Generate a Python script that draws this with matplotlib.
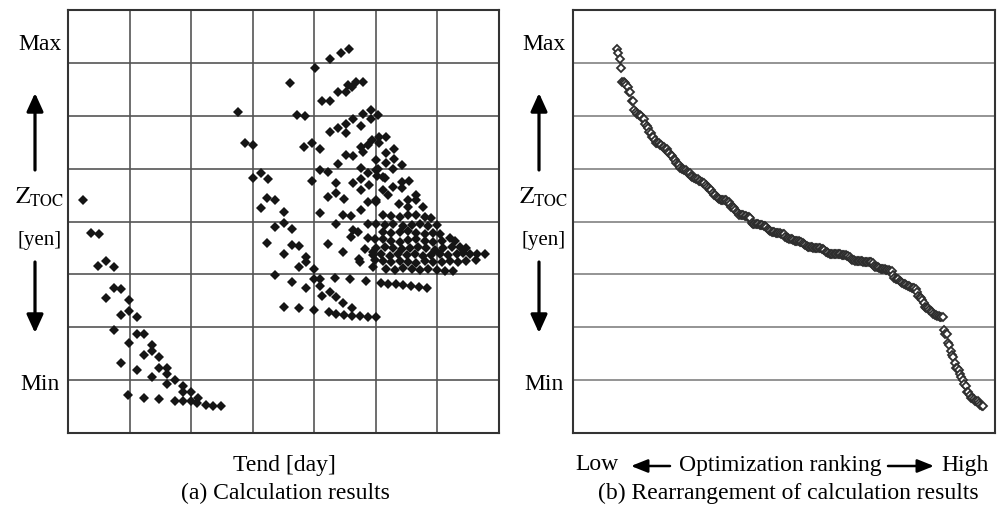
import numpy as np
import matplotlib
matplotlib.use("Agg")
import matplotlib.pyplot as plt

plt.rcParams['font.family'] = ['Liberation Serif', 'DejaVu Serif']
plt.rcParams['mathtext.fontset'] = 'stix'

# --- data (Tend in grid units 0..70, Ztoc in grid units 0..80) ---
tend_low = [2.5, 3.7, 5.0, 4.9, 6.2, 7.4, 7.4, 8.6, 6.2, 9.9, 8.6, 9.9, 11.2, 7.4, 11.2,
            12.3, 9.9, 13.6, 13.6, 12.3, 14.8, 8.6, 11.2, 14.8, 16.1, 13.6, 16.1, 17.4,
            16.1, 18.6, 18.6, 19.9, 9.8, 21.1, 12.3, 14.8, 17.4, 18.6, 19.9, 21.0, 22.4,
            23.6, 24.9]
ztoc_low = [44.0, 37.9, 37.7, 31.6, 32.6, 31.4, 27.5, 27.2, 25.6, 25.1, 22.3, 23.0, 22.0,
            19.5, 18.8, 18.8, 17.1, 16.6, 15.6, 14.8, 14.4, 13.2, 11.9, 12.3, 12.3, 10.6,
            11.2, 10.0, 9.2, 8.8, 7.8, 7.7, 7.1, 6.7, 6.6, 6.4, 6.0, 6.0, 6.0, 5.6, 5.3,
            5.2, 5.1]

tend_mid = [27.6, 28.7, 30.1, 30.1, 31.3, 32.5, 32.4, 33.7, 31.3, 35.0, 33.7, 35.0, 36.3,
            32.4, 36.3, 37.5, 35.0, 38.7, 38.7, 37.5, 33.7, 36.3, 35.0, 37.5, 38.7, 36.0,
            37.2, 38.5, 38.4, 39.7, 41.0, 39.7, 40.1, 41.3, 42.6, 42.6, 41.0, 42.3, 42.3,
            41.0, 42.2, 40.0, 39.9, 41.0, 41.0, 41.3, 42.5, 43.6, 44.7, 46.1, 39.9,
            42.4, 43.6, 44.9, 46.2, 47.4, 48.8, 50.0, 43.3, 45.8, 48.4,
            50.8, 52.0, 53.2, 54.4, 55.7, 57.0, 58.3]
ztoc_mid = [60.7, 54.8, 54.4, 48.3, 49.1, 48.1, 44.4, 44.0, 42.5, 41.8, 39.0, 39.8, 38.5,
            36.0, 35.5, 35.4, 33.8, 33.3, 32.4, 31.4, 29.9, 28.6, 23.9, 23.6, 27.4, 66.1,
            60.1, 59.9, 54.1, 54.9, 53.7, 47.7, 69.1, 62.8, 62.8, 57.0, 49.7, 49.4, 44.7,
            41.6, 35.7, 31.1, 29.1, 29.1, 27.8, 25.9, 26.7, 25.8, 24.5, 23.6, 23.3,
            22.9, 22.5, 22.4, 22.2, 22.1, 22.0, 21.9, 29.4, 29.1, 28.7,
            28.4, 28.2, 28.2, 28.0, 27.8, 27.6, 27.4]

tend_top = [42.6, 44.3, 45.6, 43.9, 45.1, 45.4, 46.8, 47.9, 46.1,
            43.9, 45.1, 45.1, 46.3, 47.6, 47.9, 49.2, 49.2, 50.4,
            45.1, 46.3, 47.6, 47.9, 48.8, 49.3, 50.5, 50.5, 51.7,
            52.9, 51.6, 52.9, 51.6, 54.2, 52.8, 43.9, 47.6, 50.4, 50.1, 50.1]
ztoc_top = [70.8, 71.8, 72.6, 64.5, 64.4, 65.8, 66.4, 66.3, 65.4,
            57.6, 58.4, 56.7, 59.3, 58.1, 60.3, 61.1, 59.3, 60.1,
            52.6, 52.4, 54.1, 53.2, 54.4, 55.4, 56.0, 54.8, 55.9,
            53.8, 52.9, 51.9, 51.0, 50.7, 50.0, 50.9, 50.2, 50.0, 51.6, 49.7]

tend_fan = [43.5, 46.3, 47.6, 48.8, 48.9, 50.2, 51.2, 43.5, 44.8, 47.6, 48.8, 50.0, 44.7,
            45.9, 47.6, 43.5, 46.3, 47.1, 48.8, 48.8, 44.7, 45.9, 47.3, 47.4, 48.2, 49.5,
            49.8, 49.5,
            51.5, 51.2, 52.0, 52.8, 54.2, 55.4, 54.2, 53.8, 55.2, 56.6, 56.6, 55.2, 57.7, 50.1]
ztoc_fan = [47.3, 47.3, 48.1, 49.1, 46.9, 48.6, 48.5, 45.4, 44.2, 45.9, 43.7, 43.7, 41.3,
            41.1, 42.2, 39.5, 38.4, 38.1, 39.6, 36.8, 34.2, 37.1, 33.0, 32.3, 34.8, 34.3,
            32.7, 31.4,
            48.3, 45.9, 45.0, 46.6, 47.5, 47.6, 46.3, 43.4, 44.0, 45.0, 44.0, 42.8, 42.8, 44.0]

tend_dense = [51.2, 52.5, 53.9, 55.2, 56.6, 58.0, 59.0,
              50.1, 51.5, 52.8, 54.4, 55.8, 57.1, 58.5, 59.9,
              51.2, 52.5, 53.9, 55.2, 56.6, 58.0, 59.3, 60.4,
              49.8, 51.2, 52.5, 53.9, 55.2, 56.6, 58.0, 59.3, 60.7, 62.0, 62.8,
              50.1, 51.5, 52.8, 54.2, 55.5, 56.9, 58.2, 59.6, 60.9, 62.3, 63.6, 64.7,
              49.6, 50.9, 52.3, 53.6, 55.0, 56.3, 57.7, 59.0, 60.4, 61.7, 63.1, 64.2, 65.3,
              66.4, 67.7,
              51.2, 52.5, 53.9, 55.2, 56.6, 58.0, 59.3, 60.7, 62.0, 63.4, 64.7, 66.3,
              51.7, 53.1, 54.4, 55.8, 57.1, 58.5, 59.9, 61.2, 62.5]
ztoc_dense = [41.2, 41.0, 40.9, 41.2, 41.2, 40.9, 40.6,
              39.5, 39.3, 39.6, 39.2, 39.4, 39.6, 39.1, 39.3,
              38.0, 37.8, 38.1, 38.2, 37.9, 37.7, 37.9, 37.6,
              36.6, 36.7, 36.4, 36.2, 36.5, 36.6, 36.3, 36.2, 36.4, 36.8, 36.3,
              35.0, 35.2, 34.9, 34.8, 35.0, 35.1, 34.9, 34.7, 35.0, 35.2, 35.1, 34.9,
              33.7, 33.8, 33.5, 33.9, 33.6, 33.8, 33.5, 33.7, 33.9, 33.6, 33.8, 34.0, 33.9,
              33.9, 33.8,
              32.5, 32.3, 32.6, 32.4, 32.2, 32.5, 32.3, 32.4, 32.6, 32.4, 32.5, 32.7,
              31.1, 30.9, 31.2, 31.0, 30.8, 31.1, 30.9, 30.7, 30.6]

tend = np.array(tend_low + tend_mid + tend_top + tend_fan + tend_dense)
ztoc = np.array(ztoc_low + ztoc_mid + ztoc_top + ztoc_fan + ztoc_dense)

# (b) same results, rearranged by optimization ranking
ztoc_ranked = np.sort(ztoc)[::-1]
rank = np.arange(len(ztoc_ranked))

W, H = 997, 508
fig = plt.figure(figsize=(W / 100, H / 100), dpi=100)


def ftext(px, py, s, size=17):
    fig.text(px / W, 1 - py / H, s, ha='center', va='center', fontsize=size)


def farrow(x0, y0, x1, y1, lw=2.3, hl=0.55, hw=0.25):
    style = '-|>,head_length=%g,head_width=%g' % (hl, hw)
    fig.add_artist(matplotlib.patches.FancyArrowPatch(
        (x0 / W, 1 - y0 / H), (x1 / W, 1 - y1 / H), transform=fig.transFigure,
        arrowstyle=style, mutation_scale=20,
        lw=lw, color='black', shrinkA=0, shrinkB=0))


# (a) calculation results
ax1 = fig.add_axes([68 / W, 75 / H, 431 / W, 423 / H])
ax1.plot(tend, ztoc, 'D', color='#151515', ms=4.7, mew=0)
ax1.set_xlim(0, 70)
ax1.set_ylim(0, 80)
ax1.set_xticks(range(0, 71, 10))
ax1.set_yticks(range(0, 81, 10))
ax1.grid(True, color='#555555', lw=1.2)
ax1.set_axisbelow(True)
ax1.tick_params(length=0, labelbottom=False, labelleft=False)
for s in ax1.spines.values():
    s.set_color('#333333')
    s.set_linewidth(1.5)

# (b) rearrangement
ax2 = fig.add_axes([573 / W, 75 / H, 422 / W, 423 / H])
n = len(ztoc_ranked)
step = (n - 1) / (983 - 617)
ax2.plot(rank, ztoc_ranked, 'D', ms=4.3, mfc='white', mec='#2e2e2e', mew=1.3)
ax2.set_xlim(-(617 - 573) * step, (n - 1) + (995 - 983) * step)
ax2.set_ylim(0, 80)
ax2.set_xticks([])
ax2.set_yticks(range(0, 81, 10))
ax2.grid(True, axis='y', color='#777777', lw=1.1)
ax2.set_axisbelow(True)
ax2.tick_params(length=0, labelbottom=False, labelleft=False)
for s in ax2.spines.values():
    s.set_color('#333333')
    s.set_linewidth(1.5)

# y-side labels for both panels
for cx in (40, 544):
    ftext(cx, 45, 'Max')
    ftext(cx, 197, r'$\mathrm{Z_{TOC}}$')
    ftext(cx, 240, '[yen]', size=15)
    ftext(cx, 385, 'Min')
    farrow(cx - 5, 170, cx - 5, 93)
    farrow(cx - 5, 262, cx - 5, 333)

# bottom labels
ftext(284, 465, 'Tend [day]')
ftext(285, 493, '(a) Calculation results')
ftext(597, 465, 'Low')
farrow(670, 466, 631, 466, lw=1.8, hl=0.5, hw=0.2)
ftext(780, 465, 'Optimization ranking')
farrow(888, 466, 934, 466, lw=1.8, hl=0.5, hw=0.2)
ftext(965, 465, 'High')
ftext(788, 493, '(b) Rearrangement of calculation results')

fig.savefig('out.png', dpi=100)
